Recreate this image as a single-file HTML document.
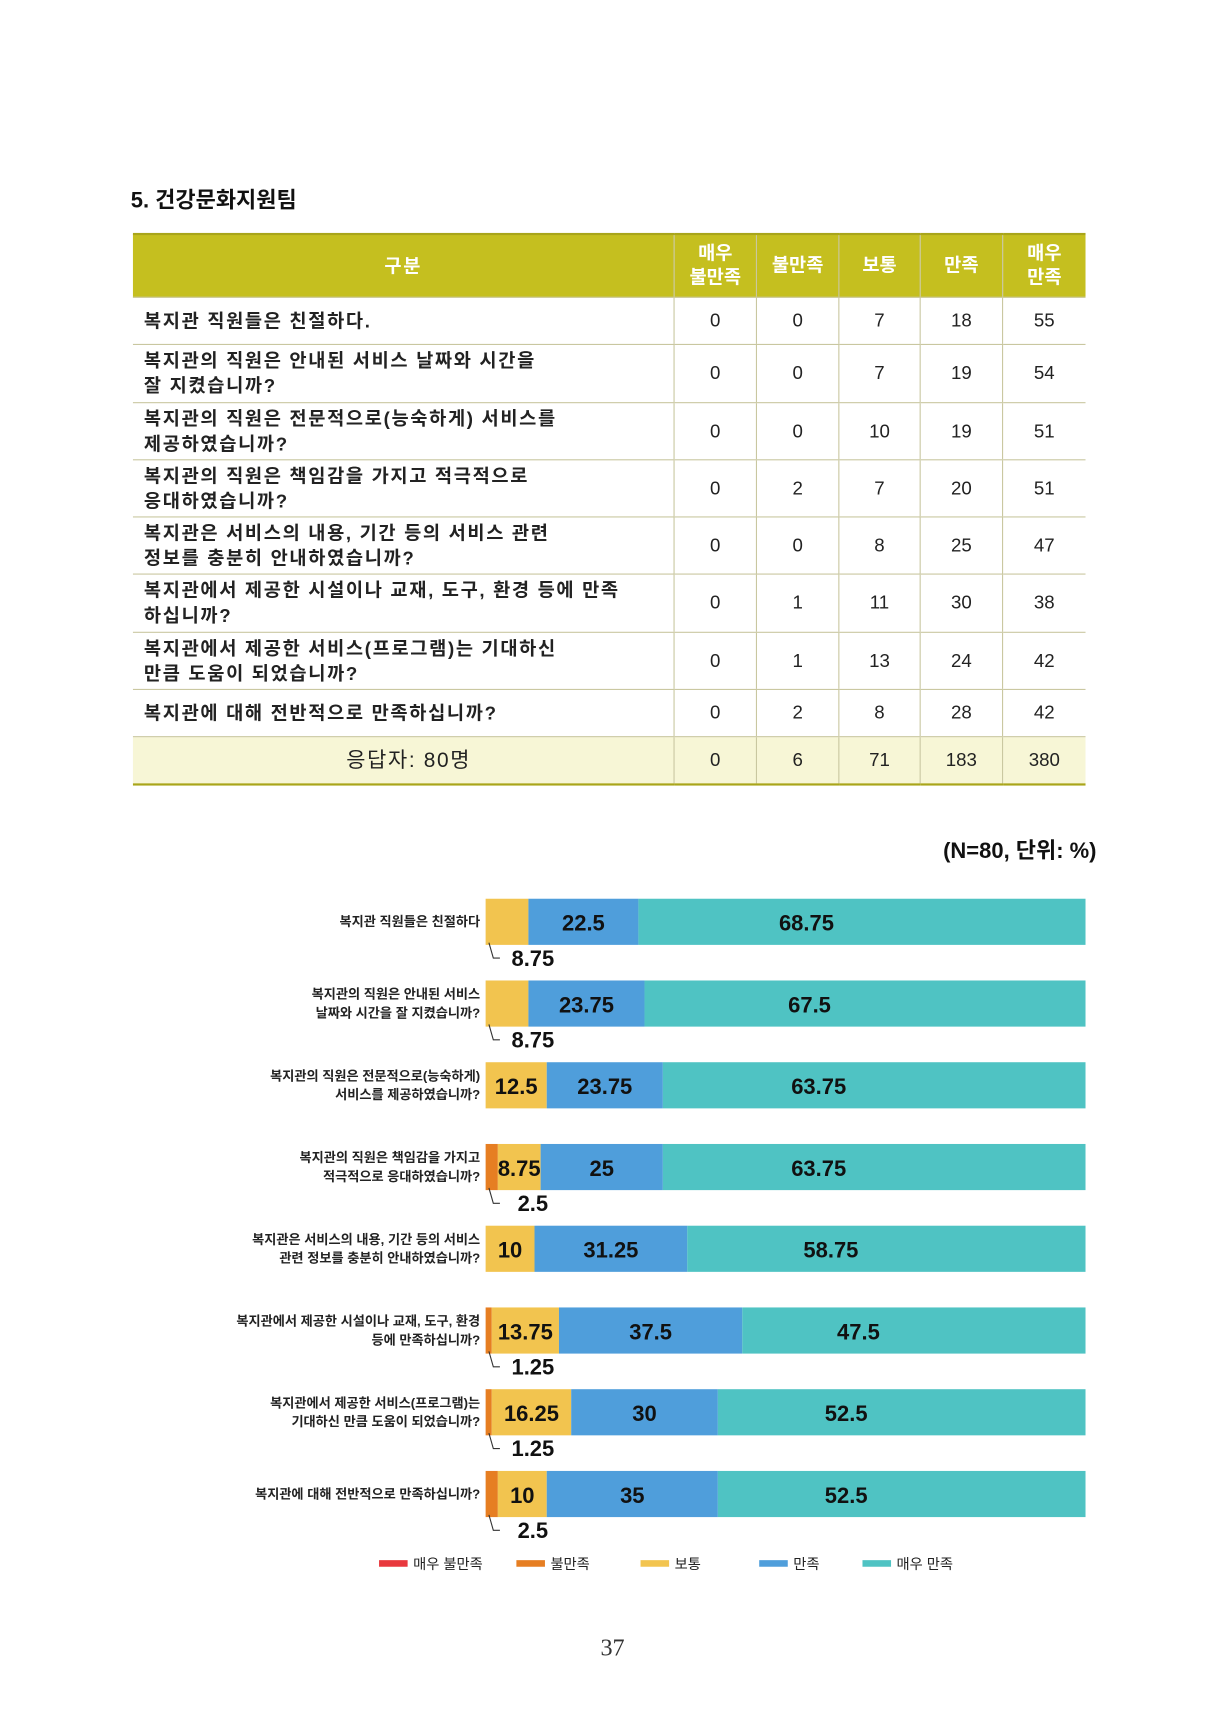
<!DOCTYPE html>
<html><head><meta charset="utf-8">
<style>
html,body{margin:0;padding:0;background:#fff;}
body{width:1225px;height:1718px;overflow:hidden;position:relative;font-family:"Liberation Sans","Noto Sans CJK KR",sans-serif;}
#wrap{position:absolute;left:0;top:0;width:1115px;height:1564px;transform:scale(1.0987);transform-origin:0 0;}
.abs{position:absolute;}
table{position:absolute;left:121px;top:212px;border-collapse:collapse;width:867px;font-size:17px;color:#222;}
td,th{border-bottom:1px solid #c9c7a0;border-left:1px solid #c9c7a0;padding:0;text-align:center;}
td:first-child,th:first-child{border-left:none;text-align:left;padding-left:10px;font-weight:bold;letter-spacing:1.5px;line-height:23px;}
th{background:#c5bf1f;color:#fff;font-weight:bold;height:56px;font-size:17px;line-height:22px;border-top:2px solid #a9a51a;}
th:first-child{text-align:center;padding-left:0;}
tr.tot td{background:#f7f6d6;border-bottom:2px solid #a9a51a;height:42px;}
tr.tot td:first-child{text-align:center;font-weight:normal;font-size:19px;}
</style></head><body>
<div id="wrap">
<div class="abs" style="left:119px;top:166px;font-size:20px;font-weight:bold;color:#111;">5. 건강문화지원팀</div>
<table>
<tr><th style="width:492px">구분</th><th style="width:74px">매우<br>불만족</th><th style="width:74px">불만족</th><th style="width:73px">보통</th><th style="width:74px">만족</th><th>매우<br>만족</th></tr>
<tr style="height:43px"><td>복지관 직원들은 친절하다.</td><td>0</td><td>0</td><td>7</td><td>18</td><td>55</td></tr>
<tr style="height:53px"><td>복지관의 직원은 안내된 서비스 날짜와 시간을<br>잘 지켰습니까?</td><td>0</td><td>0</td><td>7</td><td>19</td><td>54</td></tr>
<tr style="height:52px"><td>복지관의 직원은 전문적으로(능숙하게) 서비스를<br>제공하였습니까?</td><td>0</td><td>0</td><td>10</td><td>19</td><td>51</td></tr>
<tr style="height:52px"><td>복지관의 직원은 책임감을 가지고 적극적으로<br>응대하였습니까?</td><td>0</td><td>2</td><td>7</td><td>20</td><td>51</td></tr>
<tr style="height:52px"><td>복지관은 서비스의 내용, 기간 등의 서비스 관련<br>정보를 충분히 안내하였습니까?</td><td>0</td><td>0</td><td>8</td><td>25</td><td>47</td></tr>
<tr style="height:53px"><td>복지관에서 제공한 시설이나 교재, 도구, 환경 등에 만족<br>하십니까?</td><td>0</td><td>1</td><td>11</td><td>30</td><td>38</td></tr>
<tr style="height:52px"><td>복지관에서 제공한 서비스(프로그램)는 기대하신<br>만큼 도움이 되었습니까?</td><td>0</td><td>1</td><td>13</td><td>24</td><td>42</td></tr>
<tr style="height:43px"><td>복지관에 대해 전반적으로 만족하십니까?</td><td>0</td><td>2</td><td>8</td><td>28</td><td>42</td></tr>
<tr class="tot"><td>응답자: 80명</td><td>0</td><td>6</td><td>71</td><td>183</td><td>380</td></tr>
</table>
<div class="abs" style="right:117px;top:758px;font-size:20px;font-weight:bold;color:#111;">(N=80, 단위: %)</div>
<svg id="chart" class="abs" style="left:0;top:0" width="1115" height="1564"></svg>
<div class="abs" style="left:0;width:1115px;top:1487px;text-align:center;font-family:'Liberation Serif',serif;font-size:22px;color:#333;">37</div>
</div>
<script>
const categories=[["복지관 직원들은 친절하다"],["복지관의 직원은 안내된 서비스","날짜와 시간을 잘 지켰습니까?"],["복지관의 직원은 전문적으로(능숙하게)","서비스를 제공하였습니까?"],["복지관의 직원은 책임감을 가지고","적극적으로 응대하였습니까?"],["복지관은 서비스의 내용, 기간 등의 서비스","관련 정보를 충분히 안내하였습니까?"],["복지관에서 제공한 시설이나 교재, 도구, 환경","등에 만족하십니까?"],["복지관에서 제공한 서비스(프로그램)는","기대하신 만큼 도움이 되었습니까?"],["복지관에 대해 전반적으로 만족하십니까?"]];
const seriesNames=["매우 불만족","불만족","보통","만족","매우 만족"];
const veryDissat=[0,0,0,0,0,0,0,0];
const dissat=[0,0,0,2.5,0,1.25,1.25,2.5];
const neutral=[8.75,8.75,12.5,8.75,10,13.75,16.25,10];
const satisfied=[22.5,23.75,23.75,25,31.25,37.5,30,35];
const verySat=[68.75,67.5,63.75,63.75,58.75,47.5,52.5,52.5];
const axisMax=122.7;
const colors=["#e8383d","#e67e22","#f2c44f","#4f9edb","#4fc3c3"];
const NS="http://www.w3.org/2000/svg";
const svg=document.getElementById('chart');
const x0=442,x1=988,yTop=818,step=74.4,bh=42;
const xs=v=>x0+(x1-x0)*v/axisMax;
const ys=i=>yTop+i*step;
function mk(t,a){const e=document.createElementNS(NS,t);for(const k in a)e.setAttribute(k,a[k]);svg.appendChild(e);return e;}
const series=[veryDissat,dissat,neutral,satisfied,verySat];
categories.forEach((lines,i)=>{
  const y=ys(i);
  const lbl=mk('text',{x:437,'text-anchor':'end','font-size':12,'font-weight':'bold',fill:'#222'});
  
  
  lines.forEach((l,j)=>{const ts=document.createElementNS(NS,'tspan');ts.setAttribute('x',437);ts.setAttribute('y',y+bh/2+4+(j-(lines.length-1)/2)*17);ts.textContent=l;lbl.appendChild(ts);});
  let acc=0,belowCount=0;
  series.forEach((arr,s)=>{
    const v=arr[i];
    if(v<=0)return;
    const w=xs(acc+v)-xs(acc);
    const drawW = s===4 ? x1-xs(acc) : w;
    const r=mk('rect',{x:xs(acc),y:y,width:drawW,height:bh,fill:colors[s]});
    
    
    const below = v<5 || (s===2 && v<10 && dissat[i]===0);
    let t;
    if(below){
      const lx=xs(acc)+3+belowCount*3;
      const p=mk('path',{d:`M${lx} ${y+bh-2} L${lx+4} ${y+bh+12} L${lx+10} ${y+bh+12}`,stroke:'#333',fill:'none','stroke-width':1});
      
      
      t=mk('text',{x:lx+40,y:y+bh+19,'text-anchor':'middle','font-size':20,'font-weight':'bold',fill:'#111'});
      belowCount++;
    }else{
      t=mk('text',{x:xs(acc)+w/2,y:y+bh/2+8,'text-anchor':'middle','font-size':20,'font-weight':'bold',fill:'#111'});
    }
    t.textContent=v;
    
    
    acc+=v;
  });
});
const legX=[345,470,583,691,785];
seriesNames.forEach((n,s)=>{
  const r=mk('rect',{x:legX[s],y:1420,width:26,height:6,fill:colors[s]});
  
  
  const t=mk('text',{x:legX[s]+31,y:1428,'font-size':13,fill:'#222'});
  t.textContent=n;
  
  
});
</script>
</body></html>
